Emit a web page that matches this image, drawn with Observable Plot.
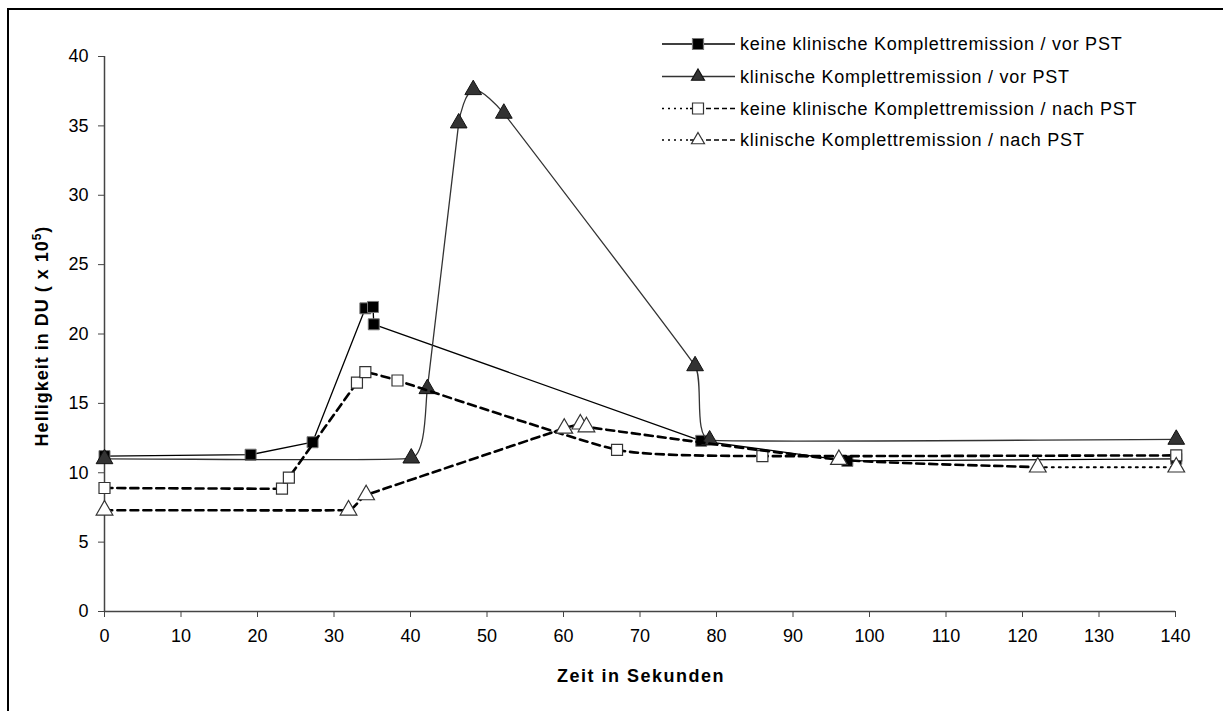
<!DOCTYPE html>
<html><head><meta charset="utf-8">
<script src="https://cdn.jsdelivr.net/npm/d3@7"></script>
<script src="https://cdn.jsdelivr.net/npm/@observablehq/plot@0.6"></script>
<style>body{margin:0;background:#fff;} svg{display:block;}</style>
</head><body><div id="chart"></div>
<script>
const seriesNames = [
  "keine klinische Komplettremission / vor PST",
  "klinische Komplettremission / vor PST",
  "keine klinische Komplettremission / nach PST",
  "klinische Komplettremission / nach PST"
];
// keine klinische Komplettremission / vor PST
const timeA = [0, 19.1, 27.2, 34.1, 35.1, 35.2, 78.0, 97.1, 140.1];
const valA  = [11.2, 11.3, 12.2, 21.85, 21.95, 20.7, 12.3, 10.85, 11.0];
// klinische Komplettremission / vor PST
const timeB = [0, 40.1, 42.2, 46.3, 48.2, 52.2, 77.2, 79.1, 140.1];
const valB  = [11.0, 11.05, 16.05, 35.2, 37.6, 35.9, 17.7, 12.35, 12.4];
// keine klinische Komplettremission / nach PST
const timeC = [0, 23.2, 24.1, 33.0, 34.1, 38.3, 67.0, 86.0, 140.1];
const valC  = [8.9, 8.85, 9.65, 16.5, 17.25, 16.65, 11.65, 11.2, 11.25];
// klinische Komplettremission / nach PST
const timeD = [0, 31.9, 34.2, 60.1, 62.2, 63.0, 96.0, 122.0, 140.1];
const valD  = [7.3, 7.3, 8.4, 13.2, 13.5, 13.3, 10.95, 10.4, 10.4];

const xTicks = [0, 10, 20, 30, 40, 50, 60, 70, 80, 90, 100, 110, 120, 130, 140];
const yTicks = [0, 5, 10, 15, 20, 25, 30, 35, 40];
const xLabel = "Zeit in Sekunden";
const yLabelMain = "Helligkeit in DU ( x 10";
const yLabelSup = "5";
const yLabelEnd = ")";

const rows = (t, v, s) => t.map((x, i) => ({x, y: v[i], s}));
const A = rows(timeA, valA, seriesNames[0]);
const B = rows(timeB, valB, seriesNames[1]);
const C = rows(timeC, valC, seriesNames[2]);
const D = rows(timeD, valD, seriesNames[3]);
const Dmain = D.filter(d => d.x <= 122);
const Dtail = D.filter(d => d.x >= 122);

// gentle smoothing (tangent length limited by the shorter neighbouring segment)
const K = 0.22;
function softCurve(context) {
  let pts;
  return {
    areaStart() {}, areaEnd() {},
    lineStart() { pts = []; },
    point(x, y) { pts.push([+x, +y]); },
    lineEnd() {
      const n = pts.length;
      if (!n) return;
      context.moveTo(pts[0][0], pts[0][1]);
      if (n === 1) return;
      const len = (a, b) => Math.hypot(b[0] - a[0], b[1] - a[1]);
      const seg = [];
      for (let i = 0; i < n - 1; i++) seg.push(len(pts[i], pts[i + 1]));
      const tan = pts.map((p, i) => {
        const a = pts[Math.max(0, i - 1)], b = pts[Math.min(n - 1, i + 1)];
        const l = len(a, b) || 1;
        const m = i === 0 ? seg[0] : i === n - 1 ? seg[n - 2] : Math.min(seg[i - 1], seg[i]);
        return [(b[0] - a[0]) / l * m * K, (b[1] - a[1]) / l * m * K];
      });
      for (let i = 0; i < n - 1; i++) {
        const p = pts[i], q = pts[i + 1];
        context.bezierCurveTo(p[0] + tan[i][0], p[1] + tan[i][1],
          q[0] - tan[i + 1][0], q[1] - tan[i + 1][1], q[0], q[1]);
      }
    }
  };
}

const font = "'Liberation Sans', Arial, sans-serif";
const R = 6.2;

const chart = Plot.plot({
  width: 1223, height: 711,
  marginLeft: 104, marginRight: 48, marginTop: 56, marginBottom: 100,
  x: {domain: [0, 140]},
  y: {domain: [0, 40]},
  style: {fontFamily: font, fontSize: "18px", color: "#000", background: "#fff"},
  marks: [
    Plot.axisX({ticks: xTicks, tickSize: 6, tickPadding: 12, label: null, fontSize: 18, stroke: "#444"}),
    Plot.axisY({ticks: yTicks, tickSize: 6, tickPadding: 10, label: null, fontSize: 18, stroke: "#444"}),
    Plot.ruleY([0], {stroke: "#444", strokeWidth: 1.5}),
    Plot.ruleX([0], {stroke: "#444", strokeWidth: 1.5}),
    // series A
    Plot.line(A, {x: "x", y: "y", stroke: "#000", strokeWidth: 1.3}),
    Plot.dot(A, {x: "x", y: "y", symbol: "square", r: R, fill: "#000", stroke: "#777", strokeWidth: 1}),
    // series B
    Plot.line(B, {x: "x", y: "y", stroke: "#333", strokeWidth: 1.3, curve: softCurve}),
    Plot.dot(B, {x: "x", y: "y", symbol: "triangle", r: R, fill: "#333", stroke: "#111", strokeWidth: 1}),
    // series C
    Plot.line(C, {x: "x", y: "y", stroke: "#000", strokeWidth: 2.6, strokeDasharray: "8,5", curve: softCurve}),
    Plot.dot(C, {x: "x", y: "y", symbol: "square", r: R, fill: "#fff", stroke: "#333", strokeWidth: 1.2}),
    // series D
    Plot.line(Dmain, {x: "x", y: "y", stroke: "#000", strokeWidth: 2.6, strokeDasharray: "8,5", curve: softCurve}),
    Plot.line(Dtail, {x: "x", y: "y", stroke: "#000", strokeWidth: 2, strokeDasharray: "2,5"}),
    Plot.dot(D, {x: "x", y: "y", symbol: "triangle", r: R, fill: "#fff", stroke: "#333", strokeWidth: 1.2})
  ]
});

const svg = d3.select(chart);
// outer frame
svg.append("rect").attr("x", 8).attr("y", 9).attr("width", 1400).attr("height", 900)
  .attr("fill", "none").attr("stroke", "#000").attr("stroke-width", 2);

// axis labels
svg.append("text").attr("x", 641).attr("y", 682).attr("text-anchor", "middle")
  .attr("font-family", font).attr("font-size", 18).attr("font-weight", "bold")
  .attr("letter-spacing", 1.5).text(xLabel);
const yl = svg.append("text").attr("transform", "translate(48,336) rotate(-90)")
  .attr("text-anchor", "middle").attr("font-family", font).attr("font-size", 18).attr("font-weight", "bold")
  .attr("letter-spacing", 1);
yl.append("tspan").text(yLabelMain);
yl.append("tspan").attr("dy", -7).attr("font-size", 12).text(yLabelSup);
yl.append("tspan").attr("dy", 7).text(yLabelEnd);

// legend
const legY = [44, 76.5, 108.5, 140];
const sym = [d3.symbolSquare, d3.symbolTriangle2, d3.symbolSquare, d3.symbolTriangle2];
const symFill = ["#000", "#333", "#fff", "#fff"];
const symStroke = ["#777", "#111", "#333", "#333"];
const size = R * R * Math.PI;
const lg = svg.append("g").attr("text-anchor", "start");
seriesNames.forEach((name, i) => {
  const y = legY[i];
  if (i < 2) {
    lg.append("line").attr("x1", 662).attr("x2", 735).attr("y1", y).attr("y2", y)
      .attr("stroke", i === 0 ? "#000" : "#333").attr("stroke-width", 1.3);
  } else {
    lg.append("line").attr("x1", 662).attr("x2", 690).attr("y1", y).attr("y2", y)
      .attr("stroke", "#000").attr("stroke-width", 1.5).attr("stroke-dasharray", "2,4");
    lg.append("line").attr("x1", 690).attr("x2", 737).attr("y1", y).attr("y2", y)
      .attr("stroke", "#000").attr("stroke-width", 1.5).attr("stroke-dasharray", "5,3");
  }
  lg.append("path").attr("d", d3.symbol(sym[i], size)()).attr("transform", `translate(698,${y})`)
    .attr("fill", symFill[i]).attr("stroke", symStroke[i]).attr("stroke-width", 1.2);
  lg.append("text").attr("x", 740).attr("y", y).attr("dy", "0.35em").attr("text-anchor", "start")
    .attr("letter-spacing", 0.75).attr("font-family", font).attr("font-size", 18).text(name);
});

document.getElementById("chart").appendChild(chart);
</script>
</body></html>
